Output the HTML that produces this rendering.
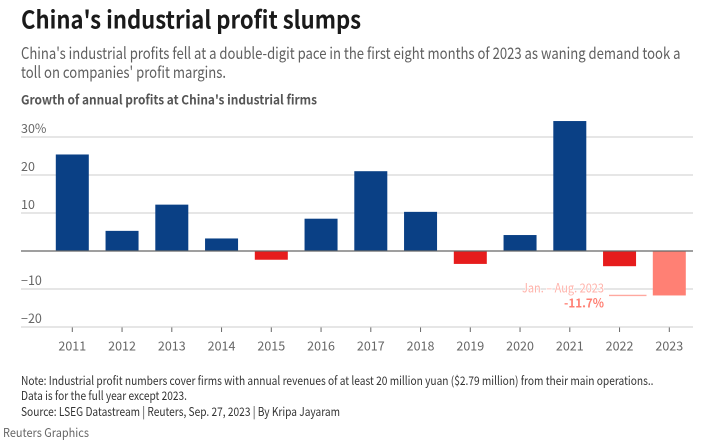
<!DOCTYPE html>
<html lang="en">
<head>
<meta charset="utf-8">
<title>China's industrial profit slumps</title>
<style>
html,body{margin:0;padding:0;background:#fff;width:712px;height:444px;overflow:hidden}
svg{display:block}
text{font-family:"Noto Sans CJK JP","Liberation Sans",sans-serif}
</style>
</head>
<body>
<svg id="chart" width="712" height="444" viewBox="0 0 712 444" xmlns="http://www.w3.org/2000/svg">
  <rect x="0" y="0" width="712" height="444" fill="#ffffff"/>
  <text x="21" y="28.5" font-size="24.5" font-weight="700" fill="#1a1a1a" textLength="340" lengthAdjust="spacingAndGlyphs">China's industrial profit slumps</text>
  <text x="21" y="59" font-size="16" fill="#5f5f5f" textLength="659.5" lengthAdjust="spacingAndGlyphs">China's industrial profits fell at a double-digit pace in the first eight months of 2023 as waning demand took a</text>
  <text x="21" y="78" font-size="16" fill="#5f5f5f" textLength="205" lengthAdjust="spacingAndGlyphs">toll on companies' profit margins.</text>
  <text x="21" y="104.5" font-size="13" font-weight="700" fill="#555555" textLength="296" lengthAdjust="spacingAndGlyphs">Growth of annual profits at China's industrial firms</text>
  <g id="grid"></g>
  <g id="ylabels"></g>
  <g id="bars"></g>
  <g id="xaxis"></g>
  <g id="annotation"></g>
  <text x="21" y="385" font-size="12" fill="#333333" textLength="632.5" lengthAdjust="spacingAndGlyphs">Note: Industrial profit numbers cover firms with annual revenues of at least 20 million yuan ($2.79 million) from their main operations..</text>
  <text x="21" y="400" font-size="12" fill="#333333" textLength="166" lengthAdjust="spacingAndGlyphs">Data is for the full year except 2023.</text>
  <text x="21" y="416" font-size="12" fill="#333333" textLength="319" lengthAdjust="spacingAndGlyphs">Source: LSEG Datastream | Reuters, Sep. 27, 2023 | By Kripa Jayaram</text>
  <text x="3" y="437" font-size="12" fill="#666666" textLength="86" lengthAdjust="spacingAndGlyphs">Reuters Graphics</text>
</svg>
<script>
const years = ['2011','2012','2013','2014','2015','2016','2017','2018','2019','2020','2021','2022','2023'];
const growth = [25.4,5.3,12.2,3.3,-2.3,8.5,21,10.3,-3.4,4.2,34.2,-4,-11.7];
const yTicks = [30,20,10,0,-10,-20];
const yTickLabels = ['30%','20','10','','\u221210','\u221220'];
const partialYearLabel = 'Jan. \u2013 Aug. 2023';
const partialYearValue = '-11.7%';

const NS = 'http://www.w3.org/2000/svg';
const xScale = i => 72.3 + i * 49.75;
const yScale = v => 251 - v * 3.8;
const make = (tag, attrs, parent, txt) => {
  const el = document.createElementNS(NS, tag);
  for (const k in attrs) el.setAttribute(k, attrs[k]);
  if (txt !== undefined) el.textContent = txt;
  parent.appendChild(el);
  return el;
};

const grid = document.getElementById('grid');
const ylabels = document.getElementById('ylabels');
yTicks.forEach((t, i) => {
  if (t !== 0) {
    const line = make('line', {x1:21, x2:693, y1:yScale(t), y2:yScale(t), stroke:'#cccccc', 'stroke-width':1}, grid);
    
    
  }
  if (yTickLabels[i]) {
    const label = make('text', {x:21, y:yScale(t) - 3.8, 'font-size':12.5, fill:'#666666'}, ylabels, yTickLabels[i]);
    
    
  }
});

const bars = document.getElementById('bars');
const barWidth = 33;
growth.forEach((v, i) => {
  const partial = i === growth.length - 1;
  const fill = partial ? '#ff8074' : (v < 0 ? '#e61c1c' : '#0a4085');
  const bar = make('rect', {
    x: xScale(i) - barWidth / 2,
    y: Math.min(yScale(v), yScale(0)),
    width: barWidth,
    height: Math.abs(yScale(v) - yScale(0)),
    fill: fill
  }, bars);
  
  
});

const xaxis = document.getElementById('xaxis');
const zero = make('line', {x1:21, x2:693, y1:yScale(0), y2:yScale(0), stroke:'#666666', 'stroke-width':1.3}, xaxis);


years.forEach((y, i) => {
  const tick = make('line', {x1:xScale(i), x2:xScale(i), y1:327.5, y2:332, stroke:'#666666', 'stroke-width':1}, xaxis);
  
  
  const label = make('text', {x:xScale(i), y:350.5, 'font-size':12.5, fill:'#666666', 'text-anchor':'middle'}, xaxis, y);
  
  
});

const ann = document.getElementById('annotation');
const last = growth.length - 1;
const ann1 = make('text', {x:522, y:292.5, 'font-size':12.5, fill:'#ffb3ab', textLength:82, lengthAdjust:'spacingAndGlyphs', stroke:'#ffffff', 'stroke-width':1.5, 'paint-order':'stroke'}, ann, partialYearLabel);


const ann2 = make('text', {x:564, y:307.5, 'font-size':12.5, 'font-weight':700, fill:'#ff8074', textLength:40, lengthAdjust:'spacingAndGlyphs'}, ann, partialYearValue);


const leader = make('line', {x1:609, x2:646.5, y1:yScale(growth[last]), y2:yScale(growth[last]), stroke:'#ffa89f', 'stroke-width':1.4}, ann);


</script>
</body>
</html>
